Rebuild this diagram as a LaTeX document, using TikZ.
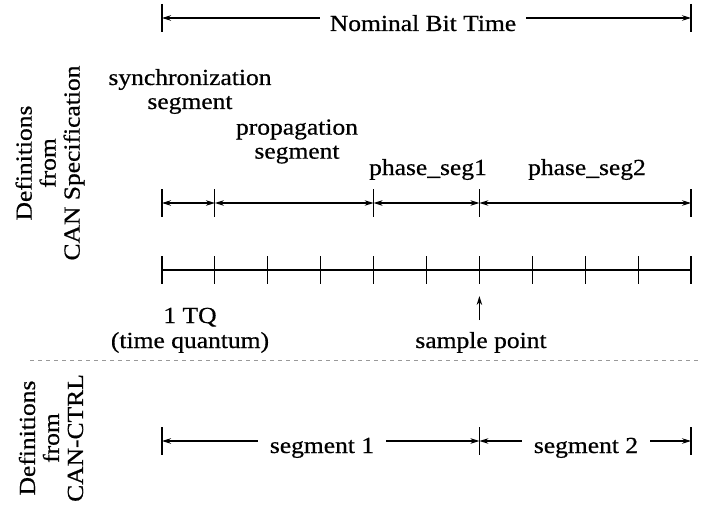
\documentclass[tikz,border=0pt]{standalone}
\usepackage{fontspec}
\setmainfont{Liberation Serif}[FakeStretch=1.11, FakeBold=0.6]
\usetikzlibrary{arrows.meta}
\tikzset{
  bar/.style={line width=1.1pt},
  dim/.style={{Stealth[length=9pt,width=5.5pt]}-{Stealth[length=9pt,width=5.5pt]}, line width=1.1pt},
  ptr/.style={-{Stealth[length=9pt,width=5.5pt]}, line width=1.1pt},
  lab/.style={font=\fontsize{23}{24}\selectfont, inner sep=0pt},
  gap/.style={lab, fill=white, inner xsep=10pt},
  side/.style={lab, rotate=90, align=center},
  divider/.style={line width=1pt, draw=gray!80, dash pattern=on 4pt off 4pt},
}

\begin{document}
\begin{tikzpicture}[x=1pt, y=-1pt]
  \useasboundingbox (0,0) rectangle (701,508);

  % ---- row headings and the split between them
  \node[side] (specLab) at (50,163) {Definitions\\from\\CAN Specification};
  \node[side] (ctrlLab) at (51,438) {Definitions\\from\\CAN-CTRL};
  \draw[divider] (30,360) -- (701,360);

  % ---- time quanta (10 TQ per bit)
  \foreach \i in {0,...,10} {
    \coordinate (q\i) at ({162+52.9*\i},270);
    \draw[bar] ([yshift=14pt]q\i) -- ([yshift=-14pt]q\i);
  }
  \draw[bar] (q0) -- (q10);

  % ---- nominal bit time
  \coordinate (n0) at (162,18);
  \coordinate (n1) at ({162+52.9*10},18);
  \foreach \p in {n0,n1} \draw[bar] ([yshift=14pt]\p) -- ([yshift=-14pt]\p);
  \draw[dim] (n0) -- (n1);
  \node[gap, anchor=base] (nbt) at (423,31) {Nominal Bit Time};

  % ---- the four segments of the spec
  \foreach \n/\k in {0/0,1/1,2/4,3/6,4/10} {
    \coordinate (s\n) at ({162+52.9*\k},203);
    \draw[bar] ([yshift=14pt]s\n) -- ([yshift=-14pt]s\n);
  }
  \foreach \a/\b in {s0/s1,s1/s2,s2/s3,s3/s4} \draw[dim] (\a) -- (\b);

  \node[lab, align=center] (syncLab) at (190,91.5) {synchronization\\segment};
  \node[lab, align=center] (propLab) at (297,141.5) {propagation\\segment};
  \node[lab, anchor=base] (ph1Lab) at (428,175) {phase\_seg1};
  \node[lab, anchor=base] (ph2Lab) at (587,175) {phase\_seg2};

  % ---- TQ and sample point
  \node[lab, anchor=base] (tqLab) at (190,323) {1 TQ};
  \node[lab, anchor=base] (tqNote) at (190,348) {(time quantum)};
  \draw[ptr] ([yshift=-50pt]q6) -- ([yshift=-26pt]q6);
  \node[lab, anchor=base] (spLab) at (481,348) {sample point};

  % ---- controller view: two segments
  \foreach \n/\k in {0/0,1/6,2/10} {
    \coordinate (c\n) at ({162+52.9*\k},441);
    \draw[bar] ([yshift=14pt]c\n) -- ([yshift=-14pt]c\n);
  }
  \draw[dim] (c0) -- (c1);
  \draw[dim] (c1) -- (c2);
  \node[gap, anchor=base, inner xsep=12pt] (seg1) at (322,453) {segment 1};
  \node[gap, anchor=base, inner xsep=12pt] (seg2) at (586,453) {segment 2};
\end{tikzpicture}
\end{document}
